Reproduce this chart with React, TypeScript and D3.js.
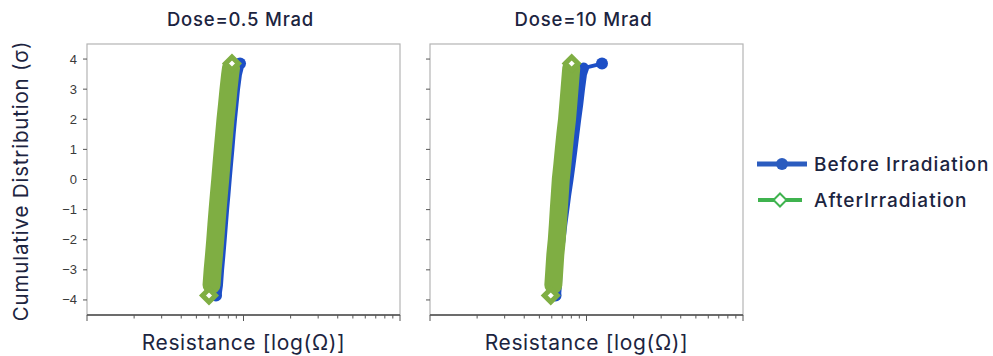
import { useRef, useEffect } from "react";
import * as d3 from "d3";

// cumulative probability levels (sigma) shared by every series
const sigma = [-3.85, -3.5, -3, -2.5, -2, -1.5, -1, -0.5, 0, 0.5, 1, 1.5, 2, 2.5, 3, 3.5, 3.7, 3.85];
const yTicks = [-4, -3, -2, -1, 0, 1, 2, 3, 4];

// resistance, in kOhm
const before05 = [6.67, 6.82, 6.93, 7.07, 7.2, 7.33, 7.46, 7.61, 7.75, 7.9, 8.06, 8.21, 8.38, 8.57, 8.76, 9.02, 9.22, 9.5];
const after05 = [6.02, 6.25, 6.35, 6.48, 6.6, 6.71, 6.83, 6.96, 7.1, 7.23, 7.37, 7.52, 7.67, 7.85, 8.02, 8.22, 8.32, 8.44];
const before10 = [6.34, 6.43, 6.48, 6.57, 6.77, 6.95, 7.16, 7.37, 7.62, 7.85, 8.08, 8.3, 8.53, 8.79, 9.02, 9.29, 9.57, 12.56];
const after10 = [5.91, 6.14, 6.23, 6.32, 6.46, 6.56, 6.65, 6.75, 6.85, 7.01, 7.16, 7.32, 7.51, 7.65, 7.79, 7.93, 7.99, 8.04];

const titles = ["Dose=0.5 Mrad", "Dose=10 Mrad"];
const seriesNames = ["Before Irradiation", "AfterIrradiation"];

const BLUE = "#1d4fc6";
const GREEN = "#7fae43";
const TEXT = "#1c2440";
const FONT = "Inter, 'Open Sans', sans-serif";

export default function App() {
  const svgRef = useRef<SVGSVGElement>(null);

  useEffect(() => {
    if (!svgRef.current) return;
    const svg = d3.select(svgRef.current);
    svg.selectAll("*").remove();

    const panelLeft = [87, 430];
    const top = 44;
    const w = 313;
    const h = 271;

    const x = d3.scaleLog().domain([1, 100]).range([0, w]);
    const y = d3.scaleLinear().domain([-4.5, 4.5]).range([h, 0]);

    const panels = [
      { before: before05, after: after05 },
      { before: before10, after: after10 },
    ];

    const diamond = (cx: number, cy: number, r: number) =>
      `M${cx},${cy - r}L${cx + r},${cy}L${cx},${cy + r}L${cx - r},${cy}Z`;

    panels.forEach((p, i) => {
      const g = svg.append("g").attr("transform", `translate(${panelLeft[i]},${top})`);

      // frame
      g.append("rect").attr("width", w).attr("height", h)
        .attr("fill", "none").attr("stroke", "#b4b4b4").attr("stroke-width", 1.2);
      g.append("line").attr("x1", 0).attr("x2", w).attr("y1", h).attr("y2", h)
        .attr("stroke", "#4a4a4a").attr("stroke-width", 1.5);

      // y ticks
      g.selectAll(".yt").data(yTicks).enter().append("line")
        .attr("x1", -4).attr("x2", 0)
        .attr("y1", (d) => y(d)).attr("y2", (d) => y(d))
        .attr("stroke", "#555");
      if (i === 0) {
        g.selectAll(".yl").data(yTicks).enter().append("text")
          .attr("x", -10).attr("y", (d) => y(d) + 4.5)
          .attr("text-anchor", "end")
          .attr("font-family", "'Liberation Sans', Arial, sans-serif")
          .attr("font-size", 13).attr("fill", "#3a3a3a")
          .text((d) => (d < 0 ? `\u2212${-d}` : `${d}`));
      }

      // x ticks (log, below the axis)
      g.selectAll(".xt").data(x.ticks()).enter().append("line")
        .attr("x1", (d) => x(d)).attr("x2", (d) => x(d))
        .attr("y1", h).attr("y2", (d) => (Math.log10(d) % 1 === 0 ? h + 6 : h + 3.5))
        .attr("stroke", "#555");

      const before = p.before.map((v, k) => [x(v), y(sigma[k])] as [number, number]);
      const after = p.after.map((v, k) => [x(v), y(sigma[k])] as [number, number]);
      const line = d3.line();

      // before: dense circles merge into a band
      g.append("path").attr("d", line(before.slice(0, -1)))
        .attr("fill", "none").attr("stroke", BLUE).attr("stroke-width", 11)
        .attr("stroke-linecap", "round").attr("stroke-linejoin", "round");
      g.append("path").attr("d", line(before))
        .attr("fill", "none").attr("stroke", BLUE).attr("stroke-width", 4);
      [before[0], before[before.length - 1]].forEach(([cx, cy]) => {
        g.append("circle").attr("cx", cx).attr("cy", cy).attr("r", 6).attr("fill", BLUE);
      });

      // after: dense diamonds merge into a band
      g.append("path").attr("d", line(after.slice(1, -1)))
        .attr("fill", "none").attr("stroke", GREEN).attr("stroke-width", 18)
        .attr("stroke-linecap", "round").attr("stroke-linejoin", "round");
      [after[0], after[after.length - 1]].forEach(([cx, cy]) => {
        g.append("path").attr("d", diamond(cx, cy, 6.5))
          .attr("fill", "#fff").attr("stroke", GREEN).attr("stroke-width", 5)
          .attr("stroke-linejoin", "miter");
      });

      // titles and axis labels
      svg.append("text")
        .attr("x", panelLeft[i] + w / 2 - 3).attr("y", 26)
        .attr("text-anchor", "middle").attr("font-family", FONT)
        .attr("font-size", 18.5).attr("font-weight", 500).attr("fill", TEXT)
        .attr("letter-spacing", 0.8)
        .text(titles[i]);
      svg.append("text")
        .attr("x", panelLeft[i] + w / 2).attr("y", 350)
        .attr("text-anchor", "middle").attr("font-family", FONT)
        .attr("font-size", 21).attr("fill", TEXT).attr("letter-spacing", 0.65)
        .text("Resistance [log(\u03a9)]");
    });

    svg.append("text")
      .attr("transform", "translate(28,181) rotate(-90)")
      .attr("text-anchor", "middle").attr("font-family", FONT)
      .attr("font-size", 20.5).attr("fill", TEXT).attr("letter-spacing", 0.8)
      .text("Cumulative Distribution (\u03c3)");

    // legend
    const lg = svg.append("g").attr("transform", "translate(757,164)");
    lg.append("line").attr("x1", 0).attr("x2", 50).attr("stroke", "#2b5cbf").attr("stroke-width", 5);
    lg.append("circle").attr("cx", 25).attr("r", 6).attr("fill", "#2b5cbf");
    lg.append("text").attr("x", 57).attr("y", 6.5).attr("font-family", FONT)
      .attr("font-size", 19).attr("font-weight", 450).attr("fill", TEXT)
      .attr("letter-spacing", 1).text(seriesNames[0]);
    lg.append("line").attr("x1", 1).attr("x2", 45).attr("y1", 36).attr("y2", 36)
      .attr("stroke", "#3fb34f").attr("stroke-width", 4);
    lg.append("path").attr("d", diamond(23, 36, 6.5))
      .attr("fill", "#fff").attr("stroke", "#3fb34f").attr("stroke-width", 2);
    lg.append("text").attr("x", 57).attr("y", 42.5).attr("font-family", FONT)
      .attr("font-size", 19).attr("font-weight", 450).attr("fill", TEXT)
      .attr("letter-spacing", 1).text(seriesNames[1]);
  }, []);

  return (
    <svg ref={svgRef} width={993} height={356}
      style={{ position: "absolute", left: 0, top: 0, background: "#fff" }} />
  );
}
